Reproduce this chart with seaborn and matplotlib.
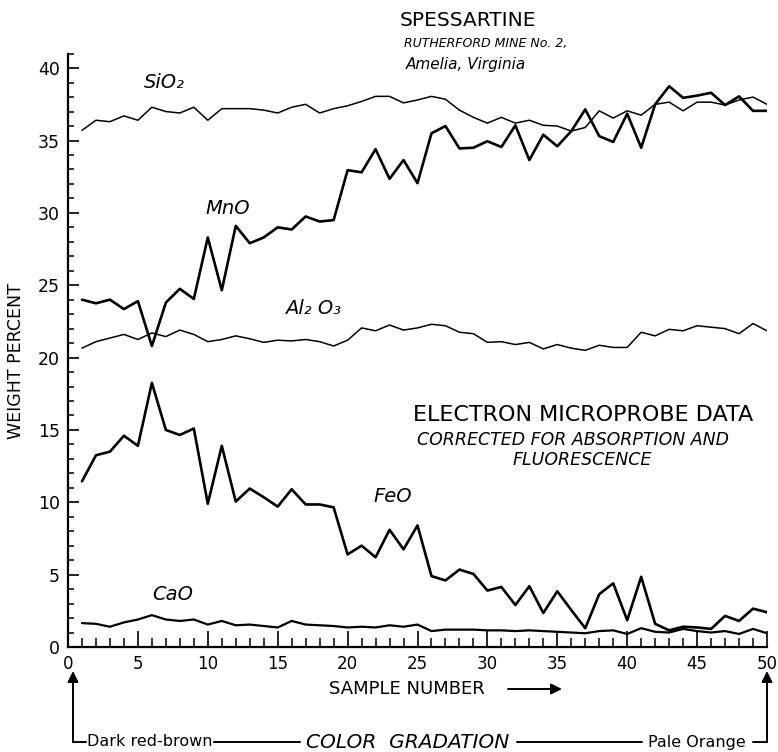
import matplotlib
matplotlib.use("Agg")
import matplotlib.pyplot as plt
import numpy as np
import pandas as pd
import seaborn as sns
from matplotlib.ticker import MultipleLocator
from matplotlib.lines import Line2D

# ---------------- data ----------------
samples = list(range(1, 51))
sio2 = [35.7, 36.4, 36.3, 36.7, 36.4, 37.3, 37.0, 36.9, 37.3, 36.4,
        37.2, 37.2, 37.2, 37.1, 36.9, 37.3, 37.5, 36.9, 37.2, 37.4,
        37.7, 38.05, 38.05, 37.6, 37.8, 38.05, 37.85, 37.1, 36.6, 36.2,
        36.6, 36.2, 36.4, 36.05, 36.0, 35.65, 35.9, 37.05, 36.55, 37.05,
        36.75, 37.5, 37.65, 37.05, 37.65, 37.65, 37.45, 37.8, 38.0, 37.5]
mno = [24.0, 23.75, 24.0, 23.35, 23.9, 20.8, 23.8, 24.75, 24.05, 28.3,
       24.65, 29.1, 27.9, 28.3, 29.0, 28.85, 29.75, 29.4, 29.5, 32.95,
       32.8, 34.4, 32.35, 33.65, 32.05, 35.5, 36.0, 34.45, 34.5, 34.95,
       34.55, 36.05, 33.65, 35.4, 34.6, 35.65, 37.15, 35.3, 34.9, 36.85,
       34.5, 37.5, 38.75, 37.95, 38.1, 38.3, 37.45, 38.05, 37.05, 37.05]
al2o3 = [20.65, 21.1, 21.35, 21.6, 21.25, 21.7, 21.45, 21.9, 21.6, 21.1,
         21.25, 21.5, 21.3, 21.05, 21.2, 21.15, 21.25, 21.1, 20.8, 21.2,
         22.05, 21.85, 22.25, 21.9, 22.05, 22.3, 22.2, 21.75, 21.65, 21.05,
         21.1, 20.9, 21.05, 20.6, 20.9, 20.65, 20.5, 20.85, 20.7, 20.7,
         21.75, 21.5, 21.95, 21.85, 22.2, 22.1, 22.0, 21.65, 22.35, 21.85]
feo = [11.45, 13.25, 13.5, 14.6, 13.9, 18.25, 15.0, 14.65, 15.1, 9.9,
       13.9, 10.05, 10.95, 10.35, 9.7, 10.9, 9.85, 9.85, 9.65, 6.4,
       7.0, 6.2, 8.1, 6.75, 8.4, 4.9, 4.6, 5.35, 5.05, 3.9,
       4.15, 2.9, 4.2, 2.35, 3.85, 2.55, 1.3, 3.65, 4.4, 1.85,
       4.85, 1.6, 1.15, 1.4, 1.35, 1.25, 2.15, 1.8, 2.65, 2.4]
cao = [1.65, 1.6, 1.4, 1.7, 1.9, 2.2, 1.9, 1.8, 1.9, 1.55,
       1.8, 1.5, 1.55, 1.45, 1.35, 1.8, 1.55, 1.5, 1.45, 1.35,
       1.4, 1.35, 1.5, 1.4, 1.55, 1.1, 1.2, 1.2, 1.2, 1.15,
       1.15, 1.1, 1.15, 1.1, 1.05, 1.0, 0.95, 1.1, 1.15, 0.9,
       1.3, 1.05, 1.0, 1.25, 1.1, 1.0, 1.1, 0.9, 1.25, 0.95]

oxide_names = ["SiO2", "MnO", "Al2O3", "FeO", "CaO"]
oxide_labels = ["SiO\u2082", "MnO", "Al\u2082 O\u2083", "FeO", "CaO"]
x_ticks = [0, 5, 10, 15, 20, 25, 30, 35, 40, 45, 50]
y_ticks = [0, 5, 10, 15, 20, 25, 30, 35, 40]

df = pd.DataFrame({
    "Sample": samples * 5,
    "Oxide": sum([[n] * len(samples) for n in oxide_names], []),
    "Weight percent": sio2 + mno + al2o3 + feo + cao,
})

# ---------------- style ----------------
sns.set_style("ticks")
plt.rcParams["font.family"] = ["DejaVu Sans"]
plt.rcParams["text.color"] = "black"
plt.rcParams["axes.labelcolor"] = "black"
plt.rcParams["xtick.color"] = "black"
plt.rcParams["ytick.color"] = "black"
plt.rcParams["axes.edgecolor"] = "black"

W, H = 778, 752
fig = plt.figure(figsize=(W / 100, H / 100), dpi=100)


def fx(px):
    return px / W


def fy(py):
    return 1 - py / H


ax = fig.add_axes([fx(68), 105 / H, 699 / W, 0.789])

widths = {"SiO2": 1.1, "MnO": 1.9, "Al2O3": 1.1, "FeO": 1.9, "CaO": 1.6}
sns.lineplot(data=df, x="Sample", y="Weight percent", hue="Oxide",
             palette={n: "black" for n in oxide_names},
             size="Oxide", sizes=widths, legend=False, ax=ax)

ax.set_xlim(0, 50)
ax.set_ylim(0, 41)
ax.set_xlabel("")
ax.set_ylabel("")
for s in ["top", "right"]:
    ax.spines[s].set_visible(False)
for s in ["left", "bottom"]:
    ax.spines[s].set_linewidth(1.6)
    ax.spines[s].set_color("black")

ax.set_xticks(x_ticks)
ax.set_xticklabels([str(t) for t in x_ticks])
ax.set_yticks(y_ticks)
ax.set_yticklabels([str(t) for t in y_ticks])
ax.xaxis.set_minor_locator(MultipleLocator(1))
ax.yaxis.set_minor_locator(MultipleLocator(1))
ax.tick_params(axis="x", which="major", direction="in", length=11.5, width=1.2,
               labelsize=12, pad=6, colors="black")
ax.tick_params(axis="x", which="minor", direction="in", length=6.5, width=1.1,
               colors="black")
ax.tick_params(axis="y", which="major", direction="in", length=8, width=1.2,
               labelsize=12.5, pad=6, colors="black")
ax.tick_params(axis="y", which="minor", direction="in", length=4.5, width=1.1,
               colors="black")

# series labels
lab_pos = [(6.9, 39.0), (11.45, 30.3), (17.5, 23.4), (23.25, 10.4), (7.5, 3.6)]
for lab, (lx, ly) in zip(oxide_labels, lab_pos):
    ax.text(lx, ly, lab, ha="center", va="center", fontsize=14, style="italic",
            color="black")

# titles
fig.text(fx(400), fy(20), "SPESSARTINE", fontsize=14.5, ha="left", va="center")
fig.text(fx(404), fy(44), "RUTHERFORD MINE No. 2,", fontsize=9, style="italic",
         ha="left", va="center")
fig.text(fx(406), fy(65), "Amelia, Virginia", fontsize=11, style="italic",
         ha="left", va="center")
fig.text(fx(413), fy(415), "ELECTRON MICROPROBE DATA", fontsize=16,
         ha="left", va="center")
fig.text(fx(573), fy(440), "CORRECTED FOR ABSORPTION AND", fontsize=12.5,
         style="italic", ha="center", va="center")
fig.text(fx(582), fy(460), "FLUORESCENCE", fontsize=12.5, style="italic",
         ha="center", va="center")

# axis titles
fig.text(fx(16), fy(361), "WEIGHT PERCENT", rotation=90, fontsize=12.5,
         ha="center", va="center")
fig.text(fx(329), fy(689), "SAMPLE NUMBER", fontsize=13, ha="left", va="center")
ap = dict(arrowstyle="-|>", lw=1.4, color="black", mutation_scale=16,
          shrinkA=0, shrinkB=0)
fig.add_artist(matplotlib.patches.FancyArrowPatch(
    (fx(508), fy(689)), (fx(562), fy(689)), transform=fig.transFigure, **ap))

# colour gradation bracket
yb = 742
fig.add_artist(matplotlib.patches.FancyArrowPatch(
    (fx(73), fy(yb)), (fx(73), fy(671)), transform=fig.transFigure, **ap))
fig.add_artist(matplotlib.patches.FancyArrowPatch(
    (fx(767), fy(yb)), (fx(767), fy(671)), transform=fig.transFigure, **ap))
for x0, x1 in [(73, 86), (214, 300), (517, 642), (753, 767)]:
    fig.add_artist(Line2D([fx(x0), fx(x1)], [fy(yb), fy(yb)],
                          transform=fig.transFigure, color="black", lw=1.4))
fig.text(fx(150), fy(yb), "Dark red-brown", fontsize=11.5, ha="center", va="center")
fig.text(fx(408), fy(yb), "COLOR  GRADATION", fontsize=14.5, style="italic",
         ha="center", va="center")
fig.text(fx(697), fy(yb), "Pale Orange", fontsize=11.5, ha="center", va="center")

fig.savefig("out.png", dpi=100)
